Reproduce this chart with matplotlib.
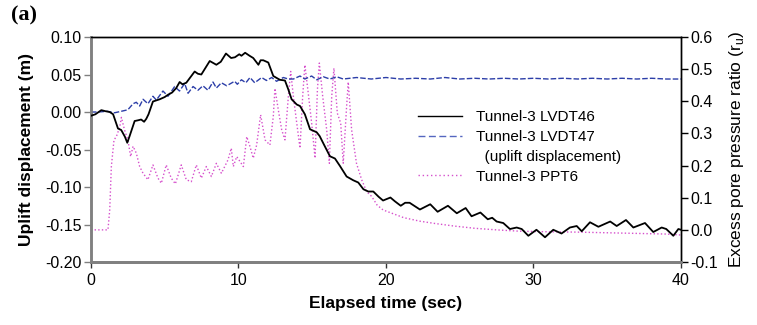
import matplotlib
matplotlib.use("Agg")
import matplotlib.pyplot as plt
from matplotlib.lines import Line2D

plt.rcParams['font.family'] = ['Liberation Sans', 'DejaVu Sans']
plt.rcParams['axes.unicode_minus'] = False

# Tunnel-3 LVDT46 (uplift displacement, m)
t46 = [0.0, 0.3, 0.7, 1.0, 1.27, 1.5, 1.83, 2.05, 2.3, 2.46, 2.62, 2.96, 3.2, 3.4,
       3.6, 3.75, 3.9, 4.2, 4.66, 5.0, 5.22, 5.5, 5.78, 6.01, 6.2, 6.46, 7.03, 7.25,
       7.48, 8.05, 8.5, 8.8, 9.15, 9.5, 9.76, 10.05, 10.2, 10.45, 10.75, 11.0, 11.35,
       11.5, 11.68, 12.02, 12.36, 12.8, 13.15, 13.38, 13.6, 13.95, 14.17, 14.5, 14.85,
       15.3, 15.5, 15.86, 16.2, 16.54, 16.88, 17.33, 17.78, 18.12, 18.47, 18.8, 19.14,
       19.5, 19.8, 20.3, 20.6, 21.0, 21.3, 21.6, 22.3, 23.0, 23.5, 24.2, 24.8, 25.4,
       25.8, 26.4, 26.9, 27.2, 27.5, 27.95, 28.4, 28.86, 29.2, 29.65, 30.2, 30.78,
       31.34, 31.9, 32.47, 32.93, 33.27, 33.83, 34.4, 35.2, 35.64, 36.27, 36.77,
       37.56, 38.12, 38.69, 39.0, 39.48, 39.82, 40.0]
v46 = [-0.005, -0.003, 0.0025, 0.001, 0.0, -0.003, -0.022, -0.024, -0.033, -0.041,
       -0.032, -0.012, -0.011, -0.010, -0.013, -0.009, -0.003, 0.014, 0.017, 0.020,
       0.023, 0.026, 0.032, 0.040, 0.037, 0.039, 0.054, 0.051, 0.050, 0.068, 0.063,
       0.067, 0.078, 0.072, 0.073, 0.077, 0.075, 0.079, 0.075, 0.072, 0.063, 0.069,
       0.069, 0.066, 0.048, 0.043, 0.042, 0.030, 0.017, 0.010, 0.008, -0.003, -0.023,
       -0.027, -0.032, -0.046, -0.059, -0.062, -0.072, -0.086, -0.091, -0.094, -0.103,
       -0.106, -0.106, -0.113, -0.118, -0.114, -0.119, -0.125, -0.121, -0.121, -0.130,
       -0.123, -0.133, -0.125, -0.135, -0.128, -0.139, -0.134, -0.143, -0.141, -0.146,
       -0.148, -0.156, -0.154, -0.156, -0.165, -0.157, -0.167, -0.157, -0.162, -0.154,
       -0.152, -0.159, -0.147, -0.153, -0.146, -0.152, -0.144, -0.154, -0.148, -0.160,
       -0.154, -0.156, -0.165, -0.156, -0.157]

# Tunnel-3 LVDT47 (uplift displacement, m)
t47 = [0.0, 0.5, 1.1, 1.6, 2.06, 2.5, 2.85, 3.07, 3.3, 3.53, 3.86, 4.2, 4.43, 4.88,
       5.22, 5.4, 5.67, 6.0, 6.35, 6.58, 6.92, 7.25, 7.59, 7.93, 8.27, 8.5, 8.84, 9.2,
       9.74, 9.92, 10.2, 10.5, 10.78, 11.1, 11.57, 11.9, 12.25, 12.58, 13.04, 13.38,
       13.72, 14.17, 14.5, 14.96, 15.3, 15.75, 16.2, 16.66, 17.1, 18.0, 19.0, 20.0,
       21.0, 22.0, 23.0, 24.0, 25.0, 26.0, 27.0, 28.0, 29.0, 30.0, 31.0, 32.0, 33.0,
       34.0, 35.0, 36.0, 37.0, 38.0, 39.0, 40.0]
v47 = [0.0, 0.0, 0.001, -0.001, 0.001, 0.003, 0.011, 0.013, 0.008, 0.017, 0.011,
       0.021, 0.016, 0.028, 0.021, 0.026, 0.034, 0.028, 0.038, 0.025, 0.034, 0.029,
       0.035, 0.029, 0.040, 0.032, 0.039, 0.035, 0.041, 0.037, 0.043, 0.039, 0.046,
       0.039, 0.046, 0.042, 0.046, 0.041, 0.046, 0.044, 0.044, 0.048, 0.044, 0.048,
       0.043, 0.047, 0.044, 0.047, 0.044, 0.046, 0.044, 0.046, 0.044, 0.045, 0.044,
       0.046, 0.044, 0.045, 0.044, 0.045, 0.044, 0.045, 0.044, 0.045, 0.044, 0.045,
       0.044, 0.045, 0.044, 0.045, 0.044, 0.044]

# Tunnel-3 PPT6 (excess pore pressure ratio r_u)
t_ppt = [0.0, 0.5, 1.15, 1.27, 1.38, 1.56, 1.72, 1.95, 2.06, 2.28, 2.5, 2.69, 2.85,
         3.07, 3.3, 3.53, 3.86, 4.2, 4.54, 4.77, 5.1, 5.44, 5.72, 6.12, 6.46, 6.8,
         7.14, 7.48, 7.82, 8.16, 8.5, 8.84, 9.29, 9.51, 9.65, 9.88, 10.33, 10.56,
         10.78, 11.0, 11.23, 11.5, 11.8, 12.13, 12.36, 12.47, 12.7, 12.93, 13.15,
         13.38, 13.54, 13.72, 13.95, 14.17, 14.35, 14.5, 14.73, 14.96, 15.19, 15.35,
         15.48, 15.71, 15.98, 16.16, 16.32, 16.47, 16.7, 16.93, 17.1, 17.33, 17.44,
         17.67, 18.0, 18.35, 18.69, 19.03, 19.4, 19.8, 20.5, 21.2, 22.3, 23.3, 24.6,
         26.0, 27.5, 29.0, 31.0, 33.0, 35.0, 37.0, 39.0, 40.0]
r_ppt = [0.0, 0.0, 0.0, 0.062, 0.197, 0.28, 0.29, 0.32, 0.35, 0.31, 0.28, 0.228,
         0.26, 0.239, 0.197, 0.176, 0.156, 0.202, 0.161, 0.145, 0.202, 0.161, 0.143,
         0.202, 0.156, 0.15, 0.202, 0.161, 0.197, 0.166, 0.207, 0.176, 0.218, 0.254,
         0.197, 0.228, 0.197, 0.29, 0.259, 0.223, 0.264, 0.358, 0.28, 0.264, 0.353,
         0.44, 0.373, 0.311, 0.28, 0.415, 0.493, 0.415, 0.332, 0.254, 0.415, 0.513,
         0.425, 0.332, 0.223, 0.436, 0.519, 0.415, 0.311, 0.207, 0.415, 0.503, 0.363,
         0.332, 0.207, 0.384, 0.46, 0.311, 0.207, 0.156, 0.119, 0.104, 0.077, 0.062,
         0.05, 0.038, 0.027, 0.02, 0.012, 0.005, 0.0, -0.004, -0.006, -0.007, -0.009,
         -0.011, -0.013, -0.016]

x_ticks = [0, 10, 20, 30, 40]
left_ticks = [-0.20, -0.15, -0.10, -0.05, 0.00, 0.05, 0.10]
right_ticks = [-0.1, 0.0, 0.1, 0.2, 0.3, 0.4, 0.5, 0.6]

fig = plt.figure(figsize=(7.57, 3.25), dpi=100)
ax = fig.add_axes([0.1202, 0.1938, 0.7794, 0.6923])
ax2 = ax.twinx()

l1, = ax.plot(t46, v46, color='black', lw=1.3, zorder=3)
l2, = ax.plot(t47, v47, color='#2c3ea8', lw=1.0, ls=(0, (4, 1.5)), zorder=2)
l3, = ax2.plot(t_ppt, r_ppt, color='#d650cc', lw=1.0, ls=(0, (1, 1.6)))

# keep displacement lines above the pore pressure line
ax.set_zorder(ax2.get_zorder() + 1)
ax.patch.set_visible(False)

ax.set_xlim(0, 40)
ax.set_ylim(-0.20, 0.10)
ax2.set_ylim(-0.1, 0.6)
ax.set_xticks(x_ticks)
ax.set_xticklabels([str(v) for v in x_ticks])
ax.set_yticks(left_ticks)
ax.set_yticklabels(['%.2f' % v for v in left_ticks])
ax2.set_yticks(right_ticks)
ax2.set_yticklabels(['%.1f' % v for v in right_ticks])

for a in (ax, ax2):
    a.spines['left'].set_color('#808080')
    a.spines['left'].set_linewidth(1.8)
    a.spines['bottom'].set_color('#808080')
    a.spines['bottom'].set_linewidth(2.0)
    a.spines['top'].set_color('black')
    a.spines['top'].set_linewidth(1.0)
    a.spines['right'].set_color('black')
    a.spines['right'].set_linewidth(1.0)

ax.tick_params(axis='y', direction='out', length=5, width=1, color='#808080', labelsize=11.5, pad=2)
ax.tick_params(axis='x', direction='out', length=4, width=1, color='#333333', labelsize=11.5, pad=4)
ax2.tick_params(axis='y', direction='out', length=5, width=1, color='black', labelsize=11.5, pad=2)

ax.set_xlabel('Elapsed time (sec)', fontsize=12.5, fontweight='bold', labelpad=6)
ax.set_ylabel('Uplift displacement (m)', fontsize=12.5, fontweight='bold', labelpad=8)
ax2.set_ylabel(r'Excess pore pressure ratio (r$_\mathregular{u}$)', fontsize=12.5, labelpad=6)

blank = Line2D([], [], color='none')
leg_handles = [Line2D([], [], color='black', lw=1.0),
               Line2D([], [], color='#5566c0', lw=1.0, ls=(0, (5, 2.5))),
               blank,
               Line2D([], [], color='#d650cc', lw=1.0, ls=(0, (1, 2)))]
leg_labels = ['Tunnel-3 LVDT46', 'Tunnel-3 LVDT47', '  (uplift displacement)', 'Tunnel-3 PPT6']
leg = ax.legend(leg_handles, leg_labels, loc='upper left', bbox_to_anchor=(0.554, 0.675),
                frameon=False, fontsize=11, handlelength=2.9, handletextpad=0.9,
                labelspacing=0.38, borderpad=0, borderaxespad=0)

fig.text(0.015, 0.952, '(a)', family=['Liberation Serif', 'DejaVu Serif'],
         fontweight='bold', fontsize=16, va='center', ha='left')

fig.savefig('out.png', dpi=100)
